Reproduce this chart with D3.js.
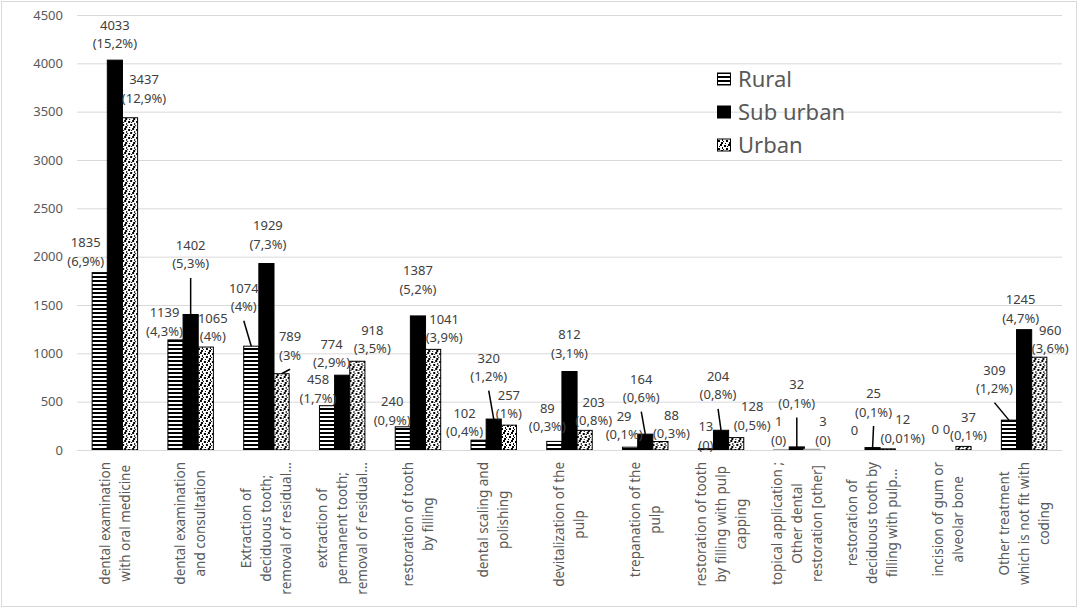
<!DOCTYPE html>
<html>
<head>
<meta charset="utf-8">
<script src="https://cdn.jsdelivr.net/npm/d3@7"></script>
<style>
  body { margin: 0; background: #fff; }
  svg { font-family: "Noto Sans", "Open Sans", sans-serif; }
</style>
</head>
<body>
<svg width="1084" height="614"></svg>
<script>
// category labels, already broken into lines like in the original
var categories = [
  ["dental examination", "with oral medicine"],
  ["dental examination", "and consultation"],
  ["Extraction of", "deciduous tooth;", "removal of residual..."],
  ["extraction of", "permanent tooth;", "removal of residual..."],
  ["restoration of tooth", "by filling"],
  ["dental scaling and", "polishing"],
  ["devitalization of the", "pulp"],
  ["trepanation of the", "pulp"],
  ["restoration of tooth", "by filling with pulp", "capping"],
  ["topical application ;", "Other dental", "restoration [other]"],
  ["restoration of", "deciduous tooth by", "filling with pulp..."],
  ["incision of gum or", "alveolar bone"],
  ["Other treatment", "which is not fit with", "coding"]
];
var seriesNames = ["Rural", "Sub urban", "Urban"];

var rural    = [1835, 1139, 1074, 458, 240, 102, 89, 29, 13, 1, 0, 0, 309];
var suburban = [4033, 1402, 1929, 774, 1387, 320, 812, 164, 204, 32, 25, 0, 1245];
var urban    = [3437, 1065, 789, 918, 1041, 257, 203, 88, 128, 3, 12, 37, 960];

var ruralPct    = ["(6,9%)", "(4,3%)", "(4%)", "(1,7%)", "(0,9%)", "(0,4%)", "(0,3%)", "(0,1%)", "(0)", "(0)", "", "", "(1,2%)"];
var suburbanPct = ["(15,2%)", "(5,3%)", "(7,3%)", "(2,9%)", "(5,2%)", "(1,2%)", "(3,1%)", "(0,6%)", "(0,8%)", "(0,1%)", "(0,1%)", "", "(4,7%)"];
var urbanPct    = ["(12,9%)", "(4%)", "(3%", "(3,5%)", "(3,9%)", "(1%)", "(0,8%)", "(0,3%)", "(0,5%)", "(0)", "(0,01%)", "(0,1%)", "(3,6%)"];

var yTicks = [0, 500, 1000, 1500, 2000, 2500, 3000, 3500, 4000, 4500];

// where the labels were dragged to in the original (offset from default spot)
var ruralNudge    = [[-14,-2],[-11,1],[-7.5,-30],[-9,2],[-10.6,3],[-14,1],[-7,-5],[-6,-3],[0,6],[-3,0],[-3,8],[2,7],[-14.5,-22]];
var suburbanNudge = [[0,-7],[0,-41],[1.5,-10],[-10.6,-3],[0,-17],[-5,-33],[0,-9],[-4,-27],[-3,-26],[0,-34],[1,-26],[-2,7],[-3.5,-2]];
var urbanNudge    = [[14,-10],[7,-1],[8.5,-9],[15,-3],[11,-2],[0,-2],[9,0],[11,2],[16,-3],[11,0],[15,-1],[5,-1],[11,1]];
// labels that got a leader line: [series, category]
var leaders = [[1,1],[0,2],[2,2],[1,5],[1,7],[1,8],[1,9],[1,10],[0,12]];

var svg = d3.select("svg");
var width = 1084, height = 614;

svg.append("rect")
  .attr("x", 1.5).attr("y", 1.5)
  .attr("width", 1075).attr("height", 605)
  .attr("fill", "#fff")
  .attr("stroke", "#d9d9d9");

// patterns
var defs = svg.append("defs");
var pr = defs.append("pattern")
  .attr("id", "stripes")
  .attr("patternUnits", "userSpaceOnUse")
  .attr("width", 8).attr("height", 4);
pr.append("rect").attr("width", 8).attr("height", 4).attr("fill", "#fff");
pr.append("rect").attr("y", 0).attr("width", 8).attr("height", 2).attr("fill", "#000");

var pu = defs.append("pattern")
  .attr("id", "dots")
  .attr("patternUnits", "userSpaceOnUse")
  .attr("width", 8).attr("height", 8);
pu.append("rect").attr("width", 8).attr("height", 8).attr("fill", "#fff");
[[0,0,2,2],[4,1,2,2],[2,3,1,2],[6,4,2,2],[1,6,2,2],[5,7,1,1],[3,5,1,1],[7,2,1,1]].forEach(function(d){
  pu.append("rect").attr("x", d[0]).attr("y", d[1]).attr("width", d[2]).attr("height", d[3]).attr("fill", "#000");
});

var fills = ["url(#stripes)", "#000", "url(#dots)"];
var values = [rural, suburban, urban];
var pcts = [ruralPct, suburbanPct, urbanPct];
var nudges = [ruralNudge, suburbanNudge, urbanNudge];

var x0 = d3.scaleBand()
  .domain(d3.range(categories.length))
  .range([77, 1062])
  .paddingInner(0.4)
  .paddingOuter(0.2);

var x1 = d3.scaleBand()
  .domain([0, 1, 2])
  .range([0, x0.bandwidth()]);

var y = d3.scaleLinear()
  .domain([0, 4500])
  .range([450, 15]);

// gridlines + y labels
var yAxis = svg.append("g")
  .attr("transform", "translate(77,0)")
  .call(d3.axisLeft(y).tickValues(yTicks).tickFormat(d3.format("d")).tickSize(-985).tickPadding(14));
yAxis.select(".domain").remove();
yAxis.selectAll(".tick line").attr("stroke", "#d9d9d9");
yAxis.selectAll(".tick text")
  .attr("fill", "#595959")
  .attr("font-size", "13px")
  .attr("font-family", "Noto Sans, sans-serif");

// bars
var groups = svg.append("g").selectAll("g")
  .data(categories)
  .enter()
  .append("g")
  .attr("transform", function(d, i){ return "translate(" + x0(i) + ",0)"; });

groups.selectAll("rect")
  .data(function(d, i){ return [0, 1, 2].map(function(s){ return {s: s, i: i, v: values[s][i]}; }); })
  .enter()
  .append("rect")
  .attr("x", function(d){ return x1(d.s); })
  .attr("y", function(d){ return y(d.v); })
  .attr("width", x1.bandwidth())
  .attr("height", function(d){ return y(0) - y(d.v); })
  .attr("fill", function(d){ return fills[d.s]; })
  .attr("stroke", function(d){
    if(d.v == 0) return "none";
    return d.v < 5 ? "#a6a6a6" : "#000";
  })
  .attr("stroke-width", function(d){ return d.v < 5 ? 2 : 1; });

// x axis line
svg.append("line")
  .attr("x1", 77).attr("x2", 1062)
  .attr("y1", y(0) + 0.5).attr("y2", y(0) + 0.5)
  .attr("stroke", "#d9d9d9");

// data labels
var lineH = 18.5;
function labelPos(s, i){
  var bx = x0(i) + x1(s) + x1.bandwidth() / 2;
  var top = y(values[s][i]);
  var n = nudges[s][i];
  return {bx: bx, top: top, lx: bx + n[0], ly: top - 28 + n[1]};
}

var labels = svg.append("g");
[0, 1, 2].forEach(function(s){
  values[s].forEach(function(v, i){
    var p = labelPos(s, i);
    var t = labels.append("text")
      .attr("text-anchor", "middle")
      .attr("font-size", "13px")
      .attr("fill", "#404040");
    t.append("tspan").attr("x", p.lx).attr("y", p.ly + 4.5).text(v);
    if(pcts[s][i] != ""){
      t.append("tspan").attr("x", p.lx).attr("y", p.ly + lineH + 4.5).text(pcts[s][i]);
    }
  });
});

leaders.forEach(function(d){
  var p = labelPos(d[0], d[1]);
  svg.append("line")
    .attr("x1", p.lx).attr("y1", p.ly + lineH + 14)
    .attr("x2", p.bx).attr("y2", p.top)
    .attr("stroke", "#000")
    .attr("stroke-width", 1.5);
});

// category labels, rotated
var xl = svg.append("g");
categories.forEach(function(lines, i){
  var cx = x0(i) + x0.bandwidth() / 2;
  var t = xl.append("text")
    .attr("text-anchor", "middle")
    .attr("font-size", "13.5px")
    .attr("fill", "#595959");
  lines.forEach(function(l, k){
    t.append("tspan")
      .attr("x", 0)
      .attr("y", (k - (lines.length - 1) / 2) * 20)
      .attr("dy", "0.35em")
      .text(l);
  });
  var maxW = d3.max(t.selectAll("tspan").nodes(), function(n){ return n.getComputedTextLength(); });
  t.attr("transform", "translate(" + cx + "," + (462 + maxW / 2) + ") rotate(-90)");
});

// legend
var legend = svg.append("g").attr("class", "legend");
seriesNames.forEach(function(name, k){
  var cy = 79 + k * 33;
  legend.append("rect")
    .attr("x", 717.5).attr("y", cy - 6)
    .attr("width", 13).attr("height", 12)
    .attr("fill", fills[k])
    .attr("stroke", "#000");
  legend.append("text")
    .attr("x", 738)
    .attr("y", cy)
    .attr("dy", "0.36em")
    .attr("font-size", "22px")
    .attr("fill", "#595959")
    .text(name);
});
</script>
</body>
</html>
